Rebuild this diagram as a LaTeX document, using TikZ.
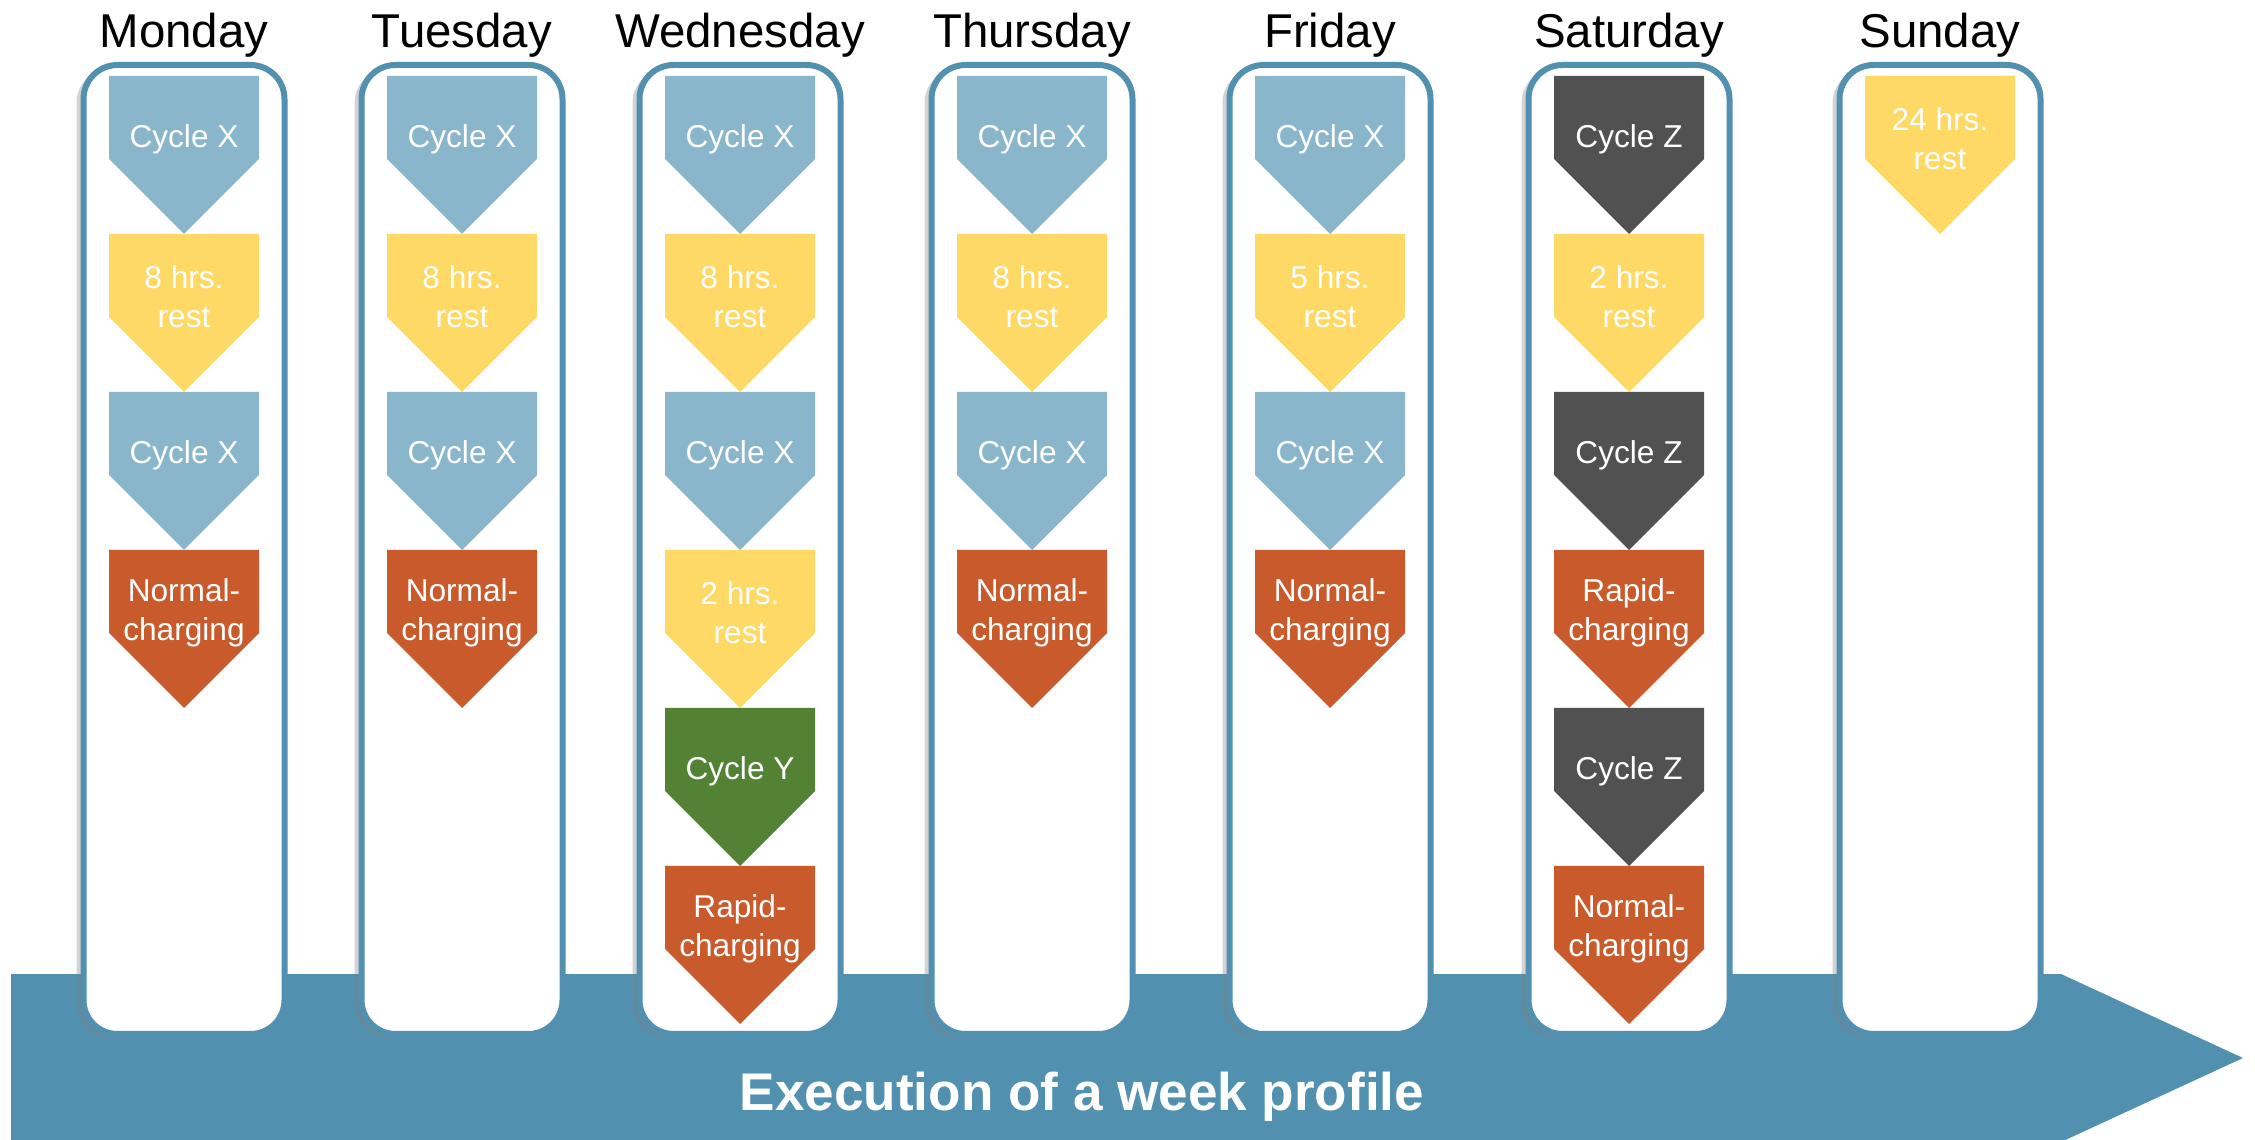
\documentclass[tikz,border=0pt]{standalone}
\usepackage{fontspec}
\setmainfont{Liberation Sans}
\usetikzlibrary{shadows}

\definecolor{frame}{HTML}{5290B0}
\definecolor{cycx}{HTML}{8AB6CB}
\definecolor{cycy}{HTML}{548235}
\definecolor{cycz}{HTML}{515151}
\definecolor{rest}{HTML}{FFD966}
\definecolor{charge}{HTML}{C95A2B}

\tikzset{
  daybox/.style={draw=frame, line width=0.6mm, fill=white, rounded corners=3.4mm,
    minimum width=20.1mm, minimum height=96.9mm, inner sep=0pt,
    drop shadow={shadow xshift=-0.7mm, shadow yshift=-0.4mm, opacity=0.35}},
  dayhead/.style={anchor=base, font=\fontsize{13.5}{16}\selectfont},
  lbl/.style={text=white, align=center, inner sep=0pt, font=\fontsize{9}{11.2}\selectfont},
}

\begin{document}
\begin{tikzpicture}[x=0.1mm, y=-0.1mm]
    \useasboundingbox (0,0) rectangle (2255,1140);
    \clip (0,0) rectangle (2255,1140);
    % ---------------- timeline arrow
    \fill[frame] (11,974) -- (2061,974) -- (2243,1058) -- (2061,1142) -- (11,1142) -- cycle;
    \node[anchor=base, text=white, font=\bfseries\fontsize{15.1}{18}\selectfont] (week) at (1082,1110) {Execution of a week profile};
    % ---------------- Monday
    \begin{scope}[shift={(184,0)}]
      \node[daybox] (mon) at (0,549.5) {};
      \node[dayhead] (mon-t) at (0,48) {Monday};
      \foreach \k/\col/\txt in {0/cycx/Cycle X, 1/rest/{8 hrs.\\rest}, 2/cycx/Cycle X, 3/charge/{Normal-\\charging}} {
        \fill[\col] (-75,76+158*\k) -- ++(150,0) -- ++(0,83) -- ++(-75,75) -- ++(-75,-75) -- cycle;
        \node[lbl] (mon-\k) at (0,139+158*\k) {\txt};
      }
    \end{scope}
    % ---------------- Tuesday
    \begin{scope}[shift={(462,0)}]
      \node[daybox] (tue) at (0,549.5) {};
      \node[dayhead] (tue-t) at (0,48) {Tuesday};
      \foreach \k/\col/\txt in {0/cycx/Cycle X, 1/rest/{8 hrs.\\rest}, 2/cycx/Cycle X, 3/charge/{Normal-\\charging}} {
        \fill[\col] (-75,76+158*\k) -- ++(150,0) -- ++(0,83) -- ++(-75,75) -- ++(-75,-75) -- cycle;
        \node[lbl] (tue-\k) at (0,139+158*\k) {\txt};
      }
    \end{scope}
    % ---------------- Wednesday
    \begin{scope}[shift={(740,0)}]
      \node[daybox] (wed) at (0,549.5) {};
      \node[dayhead] (wed-t) at (0,48) {Wednesday};
      \foreach \k/\col/\txt in {0/cycx/Cycle X, 1/rest/{8 hrs.\\rest}, 2/cycx/Cycle X, 3/rest/{2 hrs.\\rest}, 4/cycy/Cycle Y, 5/charge/{Rapid-\\charging}} {
        \fill[\col] (-75,76+158*\k) -- ++(150,0) -- ++(0,83) -- ++(-75,75) -- ++(-75,-75) -- cycle;
        \node[lbl] (wed-\k) at (0,139+158*\k) {\txt};
      }
    \end{scope}
    % ---------------- Thursday
    \begin{scope}[shift={(1032,0)}]
      \node[daybox] (thu) at (0,549.5) {};
      \node[dayhead] (thu-t) at (0,48) {Thursday};
      \foreach \k/\col/\txt in {0/cycx/Cycle X, 1/rest/{8 hrs.\\rest}, 2/cycx/Cycle X, 3/charge/{Normal-\\charging}} {
        \fill[\col] (-75,76+158*\k) -- ++(150,0) -- ++(0,83) -- ++(-75,75) -- ++(-75,-75) -- cycle;
        \node[lbl] (thu-\k) at (0,139+158*\k) {\txt};
      }
    \end{scope}
    % ---------------- Friday
    \begin{scope}[shift={(1330,0)}]
      \node[daybox] (fri) at (0,549.5) {};
      \node[dayhead] (fri-t) at (0,48) {Friday};
      \foreach \k/\col/\txt in {0/cycx/Cycle X, 1/rest/{5 hrs.\\rest}, 2/cycx/Cycle X, 3/charge/{Normal-\\charging}} {
        \fill[\col] (-75,76+158*\k) -- ++(150,0) -- ++(0,83) -- ++(-75,75) -- ++(-75,-75) -- cycle;
        \node[lbl] (fri-\k) at (0,139+158*\k) {\txt};
      }
    \end{scope}
    % ---------------- Saturday
    \begin{scope}[shift={(1629,0)}]
      \node[daybox] (sat) at (0,549.5) {};
      \node[dayhead] (sat-t) at (0,48) {Saturday};
      \foreach \k/\col/\txt in {0/cycz/Cycle Z, 1/rest/{2 hrs.\\rest}, 2/cycz/Cycle Z, 3/charge/{Rapid-\\charging}, 4/cycz/Cycle Z, 5/charge/{Normal-\\charging}} {
        \fill[\col] (-75,76+158*\k) -- ++(150,0) -- ++(0,83) -- ++(-75,75) -- ++(-75,-75) -- cycle;
        \node[lbl] (sat-\k) at (0,139+158*\k) {\txt};
      }
    \end{scope}
    % ---------------- Sunday
    \begin{scope}[shift={(1940,0)}]
      \node[daybox] (sun) at (0,549.5) {};
      \node[dayhead] (sun-t) at (0,48) {Sunday};
      \fill[rest] (-75,76) -- ++(150,0) -- ++(0,83) -- ++(-75,75) -- ++(-75,-75) -- cycle;
      \node[lbl] (sun-0) at (0,139) {24 hrs.\\rest};
    \end{scope}
\end{tikzpicture}
\end{document}
